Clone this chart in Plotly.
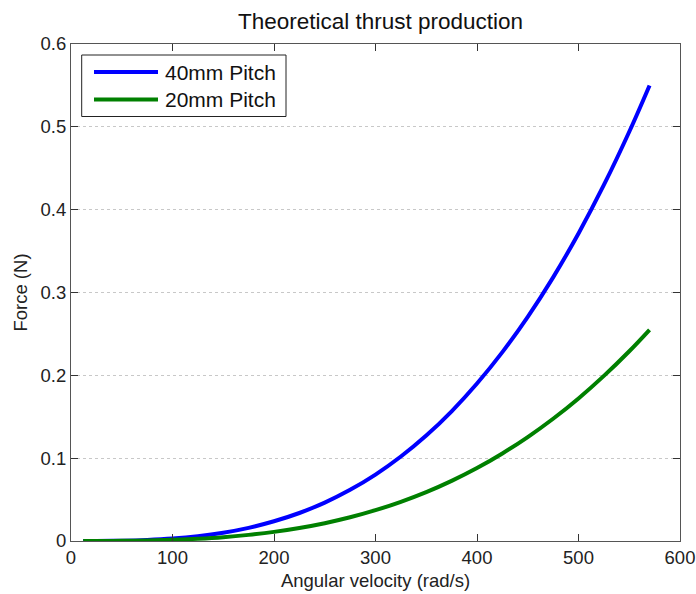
import plotly.graph_objects as go

# Angular velocity samples (rad/s)
omega = [12, 25, 50, 75, 100, 125, 150, 175, 200, 225, 250, 275, 300,
         325, 350, 375, 400, 425, 450, 475, 500, 525, 550, 570]

# Thrust (N) for each propeller pitch
force_40mm = [0.0000, 0.0000, 0.0004, 0.0013, 0.0030, 0.0058, 0.0100, 0.0159,
              0.0238, 0.0338, 0.0464, 0.0618, 0.0802, 0.1020, 0.1273, 0.1566,
              0.1901, 0.2280, 0.2706, 0.3183, 0.3713, 0.4298, 0.4941, 0.5500]
force_20mm = [0.0000, 0.0000, 0.0002, 0.0006, 0.0014, 0.0027, 0.0046, 0.0074,
              0.0110, 0.0157, 0.0215, 0.0286, 0.0372, 0.0473, 0.0590, 0.0726,
              0.0881, 0.1057, 0.1255, 0.1476, 0.1721, 0.1993, 0.2291, 0.2550]

series_names = ["40mm Pitch", "20mm Pitch"]
series_colors = ["#0000ff", "#008000"]
x_ticks = [0, 100, 200, 300, 400, 500, 600]
y_ticks = [0, 0.1, 0.2, 0.3, 0.4, 0.5, 0.6]
y_tick_text = ["0", "0.1", "0.2", "0.3", "0.4", "0.5", "0.6"]

FONT = "Liberation Sans, Arial, sans-serif"
AXIS_COLOR = "#555555"

W, H = 696, 594
M_L, M_R, M_T, M_B = 71, 16, 44, 53
PW, PH = W - M_L - M_R, H - M_T - M_B


def px_x(px):
    """Horizontal pixel position -> x-axis domain fraction."""
    return (px - M_L) / PW


def px_y(py):
    """Vertical pixel position (from top) -> y-axis domain fraction."""
    return (H - M_B - py) / PH


fig = go.Figure()
for name, color, ys in zip(series_names, series_colors, [force_40mm, force_20mm]):
    fig.add_trace(go.Scatter(x=omega, y=ys, mode="lines", name=name,
                             line=dict(color=color, width=4, shape="spline"),
                             showlegend=False))

axis_common = dict(
    showline=True, linecolor=AXIS_COLOR, linewidth=1, mirror="ticks",
    ticks="inside", ticklen=7, tickwidth=1, tickcolor="#333333",
    tickfont=dict(family=FONT, size=18.5, color="#222222"),
    zeroline=False, automargin=False,
)

fig.update_xaxes(
    range=[0, 600], tickvals=x_ticks, showgrid=False,
    title=dict(text="Angular velocity (rad/s)", font=dict(family=FONT, size=18.5, color="#222222"),
               standoff=6),
    **axis_common,
)
fig.update_yaxes(
    range=[0, 0.6], tickvals=y_ticks, ticktext=y_tick_text,
    showgrid=True, gridcolor="#c8c8c8", griddash="dot", gridwidth=1,
    title=dict(text="Force (N)", font=dict(family=FONT, size=18.5, color="#222222"),
               standoff=8),
    **axis_common,
)

# Boxed legend in the upper-left corner of the axes
shapes = [dict(type="rect", xref="x domain", yref="y domain",
               x0=px_x(81.7), x1=px_x(286), y0=px_y(116.5), y1=px_y(55),
               line=dict(color="#222222", width=1), fillcolor="white", layer="above")]
annotations = []
for i, (name, color) in enumerate(zip(series_names, series_colors)):
    row_y = 72 + i * 27.5
    shapes.append(dict(type="line", xref="x domain", yref="y domain",
                       x0=px_x(94), x1=px_x(158), y0=px_y(row_y), y1=px_y(row_y),
                       line=dict(color=color, width=4), layer="above"))
    annotations.append(dict(xref="x domain", yref="y domain", x=px_x(163), y=px_y(row_y),
                            xanchor="left", yanchor="middle", showarrow=False,
                            text=name, font=dict(family=FONT, size=21, color="#111111")))

fig.update_layout(
    width=W, height=H,
    margin=dict(l=M_L, r=M_R, t=M_T, b=M_B),
    paper_bgcolor="white", plot_bgcolor="white",
    font=dict(family=FONT, color="#222222"),
    title=dict(text="Theoretical thrust production", x=380.5 / W, xanchor="center",
               y=1 - 21 / H, yanchor="middle", xref="container", yref="container",
               font=dict(family=FONT, size=22.5, color="#111111")),
    shapes=shapes, annotations=annotations,
    showlegend=False,
)

fig.write_html("out.html")
